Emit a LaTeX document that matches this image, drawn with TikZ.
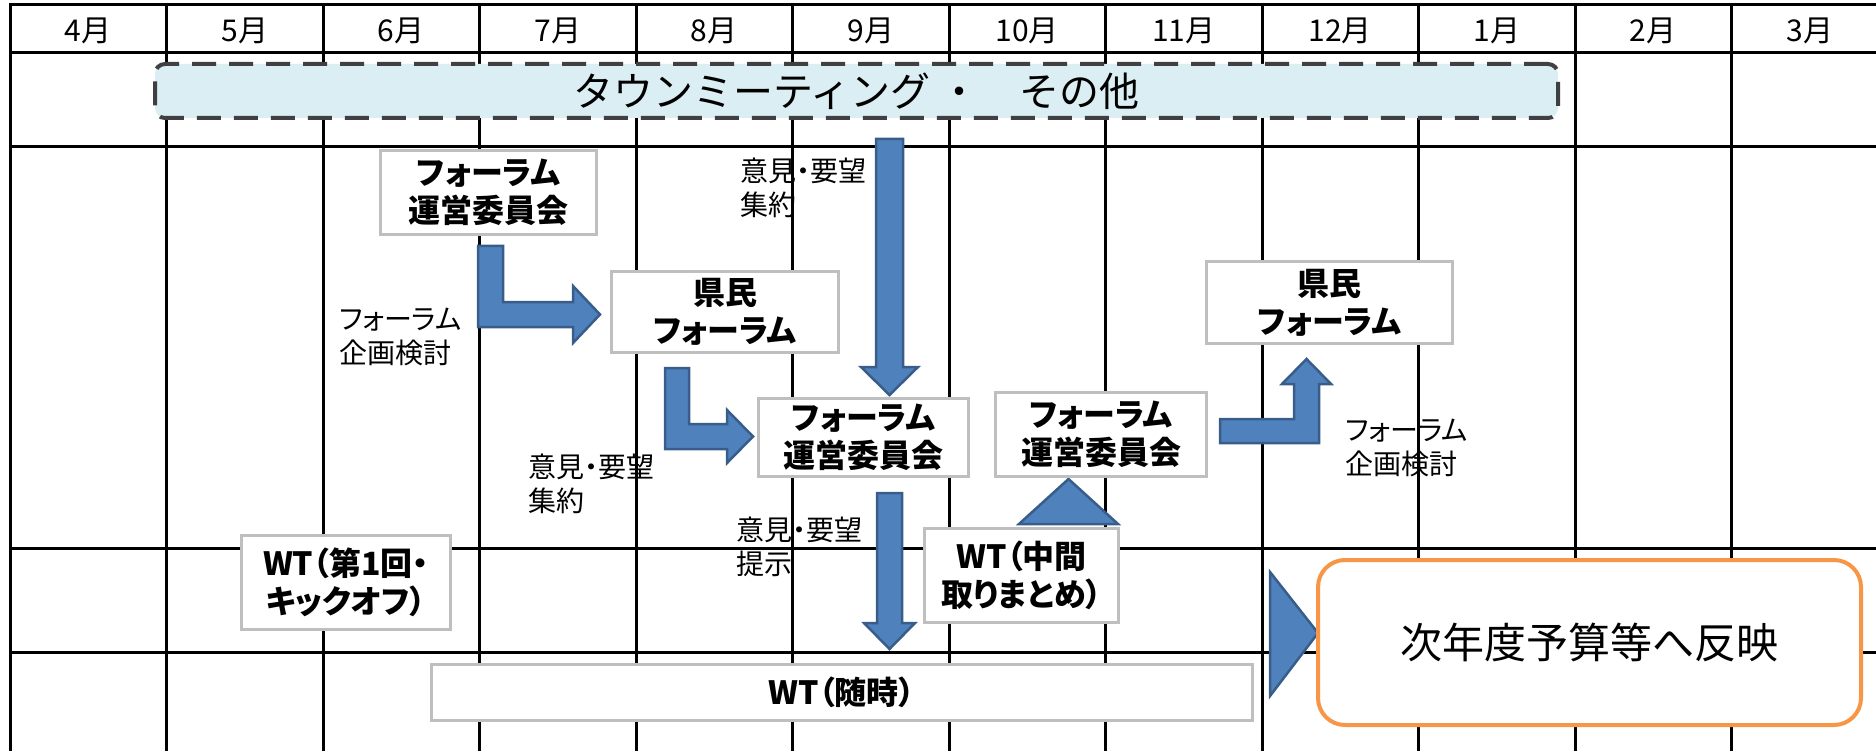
\documentclass[tikz,border=0pt]{standalone}
\usepackage{fontspec}
\setmainfont{Noto Sans CJK JP}
\newfontfamily\pfont[RawFeature=+palt]{Noto Sans CJK JP}
\definecolor{boxgray}{HTML}{BFBFBF}
\definecolor{arrowblue}{HTML}{4F81BD}
\definecolor{arrowedge}{HTML}{385D8A}
\definecolor{townfill}{HTML}{DAEEF3}
\definecolor{townedge}{HTML}{404040}
\definecolor{budgetedge}{HTML}{F79646}
\tikzset{
	gridline/.style={line width=3pt, line cap=rect},
	month/.style={inner sep=0pt, font=\fontsize{30}{36}\selectfont},
	graybox/.style={draw=boxgray, line width=3pt, fill=white, inner sep=0pt, align=center,
		font=\pfont\fontsize{32}{38}\selectfont\bfseries},
	note/.style={inner sep=0pt, align=left, anchor=west, font=\pfont\fontsize{28}{34}\selectfont},
	blockarrow/.style={fill=arrowblue, draw=arrowedge, line width=2.5pt, line join=miter},
}
\begin{document}
\begin{tikzpicture}[x=1pt, y=-1pt]
	\useasboundingbox (0,0) rectangle (1876,751);
	% grid
	\begin{scope}
		\clip (0,0) rectangle (1876,751);
		\foreach \i in {0,...,11}
			\draw[gridline] ({10+156.5*\i},5) -- ({10+156.5*\i},751);
		\foreach \y in {5,53,147,548,652}
			\draw[gridline] (10,\y) -- (1876,\y);
	\end{scope}
	\foreach \m [count=\i from 0] in {4,5,6,7,8,9,10,11,12,1,2,3}
		\node[month] (m\i) at ({10+156.5*(\i+0.5)},31) {{\m}月};
	% town meeting row
	\node[draw=townedge, fill=townfill, line width=4pt, dash pattern=on 24pt off 13pt,
		rounded corners=10pt, minimum width=1403pt, minimum height=54pt, inner sep=0pt,
		font=\fontsize{40}{48}\selectfont] (town) at (856.5,91) {タウンミーティング ・　その他};
	% arrows
	\draw[blockarrow] (478,246) -- (503,246) -- (503,302) -- (573,302) -- (573,286)
		-- (600,314.5) -- (573,343) -- (573,327) -- (478,327) -- cycle;
	\draw[blockarrow] (876,139) -- (903,139) -- (903,367) -- (918,367) -- (889.5,395)
		-- (861,367) -- (876,367) -- cycle;
	\draw[blockarrow] (665,368) -- (689,368) -- (689,424) -- (727,424) -- (727,410)
		-- (753,436.5) -- (727,463) -- (727,449) -- (665,449) -- cycle;
	\draw[blockarrow] (877,493) -- (902,493) -- (902,623) -- (915,623) -- (889.5,649)
		-- (864,623) -- (877,623) -- cycle;
	\draw[blockarrow] (1019,524) -- (1118,524) -- (1068.5,479) -- cycle;
	\draw[blockarrow] (1220,419) -- (1294,419) -- (1294,384) -- (1282,384) -- (1306.5,359)
		-- (1331,384) -- (1319,384) -- (1319,443) -- (1220,443) -- cycle;
	\draw[blockarrow] (1270,572) -- (1318,633) -- (1270,696) -- cycle;
	% boxes
	\node[graybox, minimum width=216pt, minimum height=84pt] (cm1) at (488.5,192.5) {フォーラム\\運営委員会};
	\node[graybox, minimum width=227pt, minimum height=81pt] (kf1) at (725,312) {県民\\フォーラム};
	\node[graybox, minimum width=210pt, minimum height=78pt] (cm2) at (863.5,437.5) {フォーラム\\運営委員会};
	\node[graybox, minimum width=211pt, minimum height=84pt] (cm3) at (1101,434.5) {フォーラム\\運営委員会};
	\node[graybox, minimum width=246pt, minimum height=82pt] (kf2) at (1329.5,302.5) {県民\\フォーラム};
	\node[graybox, minimum width=209pt, minimum height=94pt] (wt1) at (346,582.5) {WT（第1回・\\キックオフ）};
	\node[graybox, minimum width=194pt, minimum height=94pt] (wt2) at (1021.5,575.5) {WT（中間\\取りまとめ）};
	\node[graybox, minimum width=821pt, minimum height=56pt] (wt3) at (841.75,692.5) {WT（随時）};
	\node[draw=budgetedge, fill=white, line width=4pt, rounded corners=27pt, inner sep=0pt,
		minimum width=543pt, minimum height=165pt, font=\fontsize{42}{50}\selectfont]
		(budget) at (1589.5,642.5) {次年度予算等へ反映};
	% notes
	\node[note] (plan1) at (339,337) {フォーラム\\企画検討};
	\node[note] (voice1) at (740,188) {意見・要望\\集約};
	\node[note] (voice2) at (528,484) {意見・要望\\集約};
	\node[note] (voice3) at (736,547) {意見・要望\\提示};
	\node[note] (plan2) at (1345,448) {フォーラム\\企画検討};
\end{tikzpicture}
\end{document}
